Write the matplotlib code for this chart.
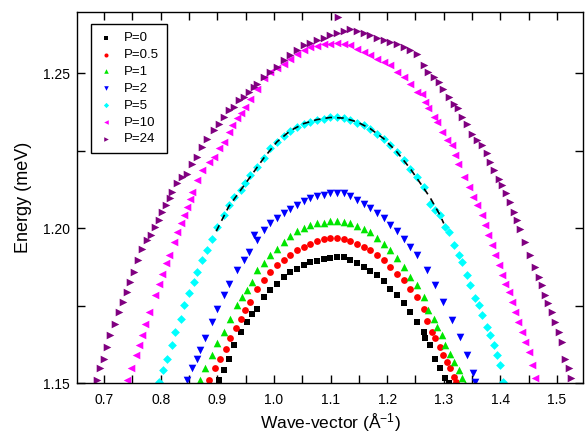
import matplotlib
matplotlib.use('Agg')
import matplotlib.pyplot as plt
from matplotlib.ticker import MultipleLocator

plt.rcParams['font.family'] = ['Liberation Sans', 'DejaVu Sans']
plt.rcParams['mathtext.fontset'] = 'custom'
plt.rcParams['mathtext.rm'] = 'Liberation Sans'
plt.rcParams['mathtext.it'] = 'Liberation Sans:italic'

# P=0
k_p0 = [0.9026, 0.9114, 0.9203, 0.9291, 0.9409, 0.9527, 0.9615, 0.9698, 0.9816, 0.9933,
        1.0051, 1.0169, 1.0287, 1.0404, 1.0522, 1.0640, 1.0758, 1.0876, 1.0993, 1.1111,
        1.1229, 1.1347, 1.1465, 1.1582, 1.1700, 1.1818, 1.1936, 1.2053, 1.2171, 1.2289,
        1.2407, 1.2525, 1.2642, 1.2671, 1.2760, 1.2848, 1.2936, 1.3025, 1.3084]
e_p0 = [1.1509, 1.1541, 1.1579, 1.1622, 1.1665, 1.1697, 1.1724, 1.1740, 1.1778, 1.1800,
        1.1821, 1.1843, 1.1857, 1.1869, 1.1880, 1.1891, 1.1895, 1.1900, 1.1904, 1.1907,
        1.1906, 1.1896, 1.1886, 1.1875, 1.1863, 1.1848, 1.1829, 1.1805, 1.1783, 1.1757,
        1.1730, 1.1697, 1.1665, 1.1644, 1.1622, 1.1579, 1.1547, 1.1515, 1.1499]

# P=0.5
k_p05 = [0.8849, 0.8967, 0.9055, 0.9144, 0.9232, 0.9321, 0.9409, 0.9497, 0.9585, 0.9698,
         0.9816, 0.9933, 1.0051, 1.0169, 1.0287, 1.0404, 1.0522, 1.0640, 1.0758, 1.0876,
         1.0993, 1.1111, 1.1229, 1.1347, 1.1465, 1.1582, 1.1700, 1.1818, 1.1936, 1.2053,
         1.2171, 1.2289, 1.2407, 1.2525, 1.2642, 1.2701, 1.2789, 1.2848, 1.2936, 1.2995,
         1.3054, 1.3113, 1.3172, 1.3213]
e_p05 = [1.1509, 1.1547, 1.1579, 1.1611, 1.1644, 1.1676, 1.1708, 1.1735, 1.1762, 1.1805,
         1.1832, 1.1859, 1.1880, 1.1896, 1.1912, 1.1929, 1.1939, 1.1950, 1.1958, 1.1964,
         1.1968, 1.1968, 1.1966, 1.1958, 1.1950, 1.1939, 1.1929, 1.1912, 1.1896, 1.1875,
         1.1853, 1.1832, 1.1805, 1.1778, 1.1740, 1.1700, 1.1665, 1.1644, 1.1617, 1.1590,
         1.1568, 1.1547, 1.1520, 1.1502]

# P=1
k_p1 = [0.8702, 0.8790, 0.8908, 0.8997, 0.9114, 0.9232, 0.9350, 0.9438, 0.9527, 0.9615,
        0.9698, 0.9816, 0.9933, 1.0051, 1.0169, 1.0287, 1.0404, 1.0522, 1.0640, 1.0758,
        1.0876, 1.0993, 1.1111, 1.1229, 1.1347, 1.1465, 1.1582, 1.1700, 1.1818, 1.1936,
        1.2053, 1.2171, 1.2289, 1.2407, 1.2525, 1.2642, 1.2730, 1.2819, 1.2878, 1.2966,
        1.3025, 1.3113, 1.3172, 1.3261, 1.3319, 1.3378]
e_p1 = [1.1509, 1.1547, 1.1590, 1.1628, 1.1665, 1.1708, 1.1751, 1.1778, 1.1800, 1.1826,
        1.1864, 1.1886, 1.1912, 1.1934, 1.1955, 1.1975, 1.1990, 1.2001, 1.2009, 1.2015,
        1.2018, 1.2022, 1.2022, 1.2020, 1.2015, 1.2007, 1.1998, 1.1986, 1.1968, 1.1950,
        1.1929, 1.1902, 1.1875, 1.1843, 1.1816, 1.1778, 1.1735, 1.1708, 1.1681, 1.1654,
        1.1622, 1.1595, 1.1568, 1.1541, 1.1515, 1.1498]

# P=2
k_p2 = [0.8466, 0.8555, 0.8643, 0.8702, 0.8790, 0.8908, 0.8997, 0.9114, 0.9203, 0.9350,
        0.9468, 0.9556, 0.9644, 0.9698, 0.9816, 0.9933, 1.0051, 1.0169, 1.0287, 1.0404,
        1.0522, 1.0640, 1.0758, 1.0876, 1.0993, 1.1111, 1.1229, 1.1347, 1.1465, 1.1582,
        1.1700, 1.1818, 1.1936, 1.2053, 1.2171, 1.2289, 1.2407, 1.2525, 1.2701, 1.2848,
        1.2995, 1.3142, 1.3290, 1.3407, 1.3514, 1.3555]
e_p2 = [1.1509, 1.1547, 1.1579, 1.1606, 1.1644, 1.1697, 1.1740, 1.1783, 1.1821, 1.1864,
        1.1896, 1.1923, 1.1977, 1.1961, 1.1993, 1.2015, 1.2033, 1.2050, 1.2063, 1.2074,
        1.2086, 1.2097, 1.2104, 1.2108, 1.2112, 1.2114, 1.2112, 1.2104, 1.2092, 1.2079,
        1.2065, 1.2050, 1.2033, 1.2011, 1.1990, 1.1966, 1.1939, 1.1912, 1.1864, 1.1816,
        1.1762, 1.1703, 1.1649, 1.1590, 1.1531, 1.1504]

# P=5
k_p5 = [0.7966, 0.8042, 0.8113, 0.8201, 0.8260, 0.8349, 0.8408, 0.8496, 0.8584, 0.8643,
        0.8731, 0.8820, 0.8908, 0.8997, 0.9114, 0.9203, 0.9291, 0.9409, 0.9497, 0.9580,
        0.9698, 0.9816, 0.9933, 1.0051, 1.0169, 1.0287, 1.0404, 1.0522, 1.0640, 1.0758,
        1.0876, 1.0993, 1.1111, 1.1229, 1.1347, 1.1465, 1.1582, 1.1700, 1.1818, 1.1936,
        1.2053, 1.2171, 1.2289, 1.2407, 1.2525, 1.2642, 1.2760, 1.2848, 1.2936, 1.3025,
        1.3084, 1.3172, 1.3261, 1.3319, 1.3407, 1.3466, 1.3555, 1.3614, 1.3672, 1.3761,
        1.3820, 1.3879, 1.3938, 1.3996, 1.4055]
e_p5 = [1.1504, 1.1541, 1.1579, 1.1622, 1.1665, 1.1708, 1.1751, 1.1789, 1.1826, 1.1859,
        1.1896, 1.1929, 1.1966, 1.2004, 1.2041, 1.2074, 1.2101, 1.2122, 1.2144, 1.2171,
        1.2198, 1.2225, 1.2257, 1.2278, 1.2297, 1.2314, 1.2327, 1.2337, 1.2343, 1.2348,
        1.2352, 1.2357, 1.2357, 1.2354, 1.2348, 1.2340, 1.2332, 1.2321, 1.2305, 1.2289,
        1.2268, 1.2246, 1.2219, 1.2192, 1.2165, 1.2133, 1.2079, 1.2058, 1.2041, 1.2004,
        1.1988, 1.1945, 1.1912, 1.1891, 1.1848, 1.1816, 1.1773, 1.1751, 1.1719, 1.1681,
        1.1654, 1.1622, 1.1590, 1.1558, 1.1504]

# P=10
k_p10 = [0.7406, 0.7477, 0.7554, 0.7613, 0.7671, 0.7730, 0.7789, 0.7907, 0.7966, 0.8025,
         0.8084, 0.8143, 0.8231, 0.8290, 0.8349, 0.8408, 0.8466, 0.8525, 0.8555, 0.8643,
         0.8731, 0.8849, 0.8938, 0.9026, 0.9114, 0.9203, 0.9262, 0.9350, 0.9409, 0.9497,
         0.9580, 0.9698, 0.9816, 0.9933, 1.0051, 1.0169, 1.0287, 1.0404, 1.0522, 1.0640,
         1.0758, 1.0876, 1.0993, 1.1111, 1.1229, 1.1347, 1.1465, 1.1582, 1.1700, 1.1818,
         1.1936, 1.2053, 1.2171, 1.2289, 1.2407, 1.2525, 1.2612, 1.2671, 1.2730, 1.2819,
         1.2878, 1.2966, 1.3054, 1.3142, 1.3201, 1.3260, 1.3349, 1.3437, 1.3514, 1.3584,
         1.3672, 1.3731, 1.3790, 1.3849, 1.3908, 1.3967, 1.4026, 1.4085, 1.4144, 1.4203,
         1.4261, 1.4320, 1.4379, 1.4438, 1.4497, 1.4556, 1.4615]
e_p10 = [1.1509, 1.1547, 1.1590, 1.1622, 1.1654, 1.1692, 1.1730, 1.1783, 1.1821, 1.1853,
         1.1886, 1.1912, 1.1955, 1.1988, 1.2015, 1.2041, 1.2068, 1.2095, 1.2117, 1.2155,
         1.2187, 1.2214, 1.2230, 1.2257, 1.2278, 1.2311, 1.2332, 1.2354, 1.2370, 1.2391,
         1.2418, 1.2450, 1.2483, 1.2504, 1.2518, 1.2531, 1.2547, 1.2563, 1.2574, 1.2583,
         1.2587, 1.2593, 1.2595, 1.2598, 1.2595, 1.2590, 1.2579, 1.2569, 1.2558, 1.2547,
         1.2536, 1.2526, 1.2504, 1.2488, 1.2466, 1.2440, 1.2434, 1.2407, 1.2386, 1.2359,
         1.2343, 1.2311, 1.2284, 1.2268, 1.2235, 1.2208, 1.2165, 1.2133, 1.2101, 1.2074,
         1.2041, 1.2009, 1.1977, 1.1945, 1.1912, 1.1880, 1.1848, 1.1821, 1.1794, 1.1762,
         1.1730, 1.1697, 1.1665, 1.1633, 1.1601, 1.1558, 1.1515]

# P=24
k_p24 = [0.6876, 0.6935, 0.6994, 0.7053, 0.7112, 0.7183, 0.7259, 0.7336, 0.7406, 0.7465,
         0.7524, 0.7595, 0.7671, 0.7760, 0.7819, 0.7907, 0.7966, 0.8025, 0.8084, 0.8172,
         0.8201, 0.8290, 0.8378, 0.8466, 0.8555, 0.8643, 0.8731, 0.8820, 0.8938, 0.9026,
         0.9114, 0.9203, 0.9291, 0.9379, 0.9468, 0.9556, 0.9644, 0.9698, 0.9816, 0.9933,
         1.0051, 1.0169, 1.0287, 1.0404, 1.0522, 1.0640, 1.0758, 1.0876, 1.0993, 1.1111,
         1.1229, 1.1347, 1.1465, 1.1582, 1.1700, 1.1818, 1.1936, 1.2053, 1.2171, 1.2289,
         1.2407, 1.2525, 1.2642, 1.2730, 1.2819, 1.2907, 1.2995, 1.3084, 1.3172, 1.3260,
         1.3319, 1.3407, 1.3496, 1.3584, 1.3673, 1.3761, 1.3820, 1.3890, 1.3967, 1.4026,
         1.4102, 1.4173, 1.4232, 1.4291, 1.4350, 1.4438, 1.4526, 1.4615, 1.4674, 1.4733,
         1.4792, 1.4850, 1.4909, 1.4968, 1.5027, 1.5086, 1.5145, 1.5204, 1.5245, 1.1140]
e_p24 = [1.1509, 1.1547, 1.1579, 1.1617, 1.1654, 1.1692, 1.1730, 1.1762, 1.1794, 1.1826,
         1.1859, 1.1896, 1.1934, 1.1961, 1.1977, 1.2004, 1.2025, 1.2052, 1.2074, 1.2097,
         1.2117, 1.2144, 1.2165, 1.2176, 1.2208, 1.2230, 1.2262, 1.2289, 1.2316, 1.2337,
         1.2359, 1.2380, 1.2391, 1.2413, 1.2423, 1.2440, 1.2456, 1.2466, 1.2488, 1.2504,
         1.2520, 1.2542, 1.2558, 1.2576, 1.2590, 1.2598, 1.2606, 1.2615, 1.2622, 1.2630,
         1.2636, 1.2641, 1.2636, 1.2630, 1.2622, 1.2612, 1.2606, 1.2601, 1.2593, 1.2583,
         1.2574, 1.2563, 1.2526, 1.2504, 1.2488, 1.2472, 1.2450, 1.2423, 1.2402, 1.2386,
         1.2359, 1.2337, 1.2305, 1.2284, 1.2268, 1.2241, 1.2214, 1.2187, 1.2160, 1.2138,
         1.2112, 1.2084, 1.2052, 1.2025, 1.1998, 1.1955, 1.1912, 1.1875, 1.1843, 1.1816,
         1.1783, 1.1757, 1.1730, 1.1697, 1.1665, 1.1633, 1.1579, 1.1547, 1.1515, 1.2682]

# fit curve through P=5
k_fit = [0.898, 0.9203, 0.941, 0.958, 0.9816, 1.0051, 1.0287, 1.0522, 1.0758, 1.0993,
         1.1229, 1.1465, 1.17, 1.1936, 1.2171, 1.2407, 1.2642, 1.276, 1.2936, 1.300]
e_fit = [1.1990, 1.2070, 1.2122, 1.2165, 1.2225, 1.2278, 1.2314, 1.2337, 1.2350, 1.2357,
         1.2355, 1.2343, 1.2321, 1.2289, 1.2246, 1.2192, 1.2130, 1.2098, 1.2041, 1.2015]

labels = ['P=0', 'P=0.5', 'P=1', 'P=2', 'P=5', 'P=10', 'P=24']
colors = ['#000000', '#ff0000', '#00e600', '#0000ff', '#00ffff', '#ff00ff', '#800080']
markers = ['s', 'o', '^', 'v', 'D', '<', '>']
sizes = [20, 24, 30, 30, 20, 30, 30]
series = [(k_p0, e_p0), (k_p05, e_p05), (k_p1, e_p1), (k_p2, e_p2),
          (k_p5, e_p5), (k_p10, e_p10), (k_p24, e_p24)]

fig = plt.figure(figsize=(5.85, 4.4), dpi=100)
ax = fig.add_axes([0.1316, 0.1295, 0.865, 0.843])

for (k, e), lab, c, m, s in zip(series, labels, colors, markers, sizes):
    ax.scatter(k, e, s=s, c=c, marker=m, linewidths=0, label=lab, zorder=2)

ax.plot(k_fit, e_fit, color='black', lw=1.2, linestyle=(0, (4, 3)), zorder=3)

ax.set_xlim(0.652, 1.546)
ax.set_ylim(1.15, 1.2697)
ax.xaxis.set_major_locator(MultipleLocator(0.1))
ax.xaxis.set_minor_locator(MultipleLocator(0.05))
ax.yaxis.set_major_locator(MultipleLocator(0.05))
ax.yaxis.set_minor_locator(MultipleLocator(0.025))
ax.xaxis.set_major_formatter(plt.FormatStrFormatter('%.1f'))
ax.yaxis.set_major_formatter(plt.FormatStrFormatter('%.2f'))
ax.tick_params(which='both', direction='in', top=True, right=True,
               length=5.5, width=1, labelsize=10)
ax.tick_params(axis='x', pad=7)
ax.tick_params(axis='y', pad=5)
for sp in ax.spines.values():
    sp.set_linewidth(1.0)

ax.set_xlabel(r'Wave-vector (Å$^{-1}$)', fontsize=12.5, labelpad=3)
ax.set_ylabel('Energy (meV)', fontsize=13, labelpad=8)

leg = ax.legend(loc='upper left', bbox_to_anchor=(0.0277, 0.9677), borderaxespad=0,
                fontsize=9.5, scatterpoints=1, markerscale=0.6, handlelength=1.0,
                handletextpad=0.9, labelspacing=0.35, borderpad=0.6, fancybox=False,
                framealpha=1, edgecolor='black')
leg.get_frame().set_linewidth(1.0)

fig.savefig('out.png', dpi=100)
